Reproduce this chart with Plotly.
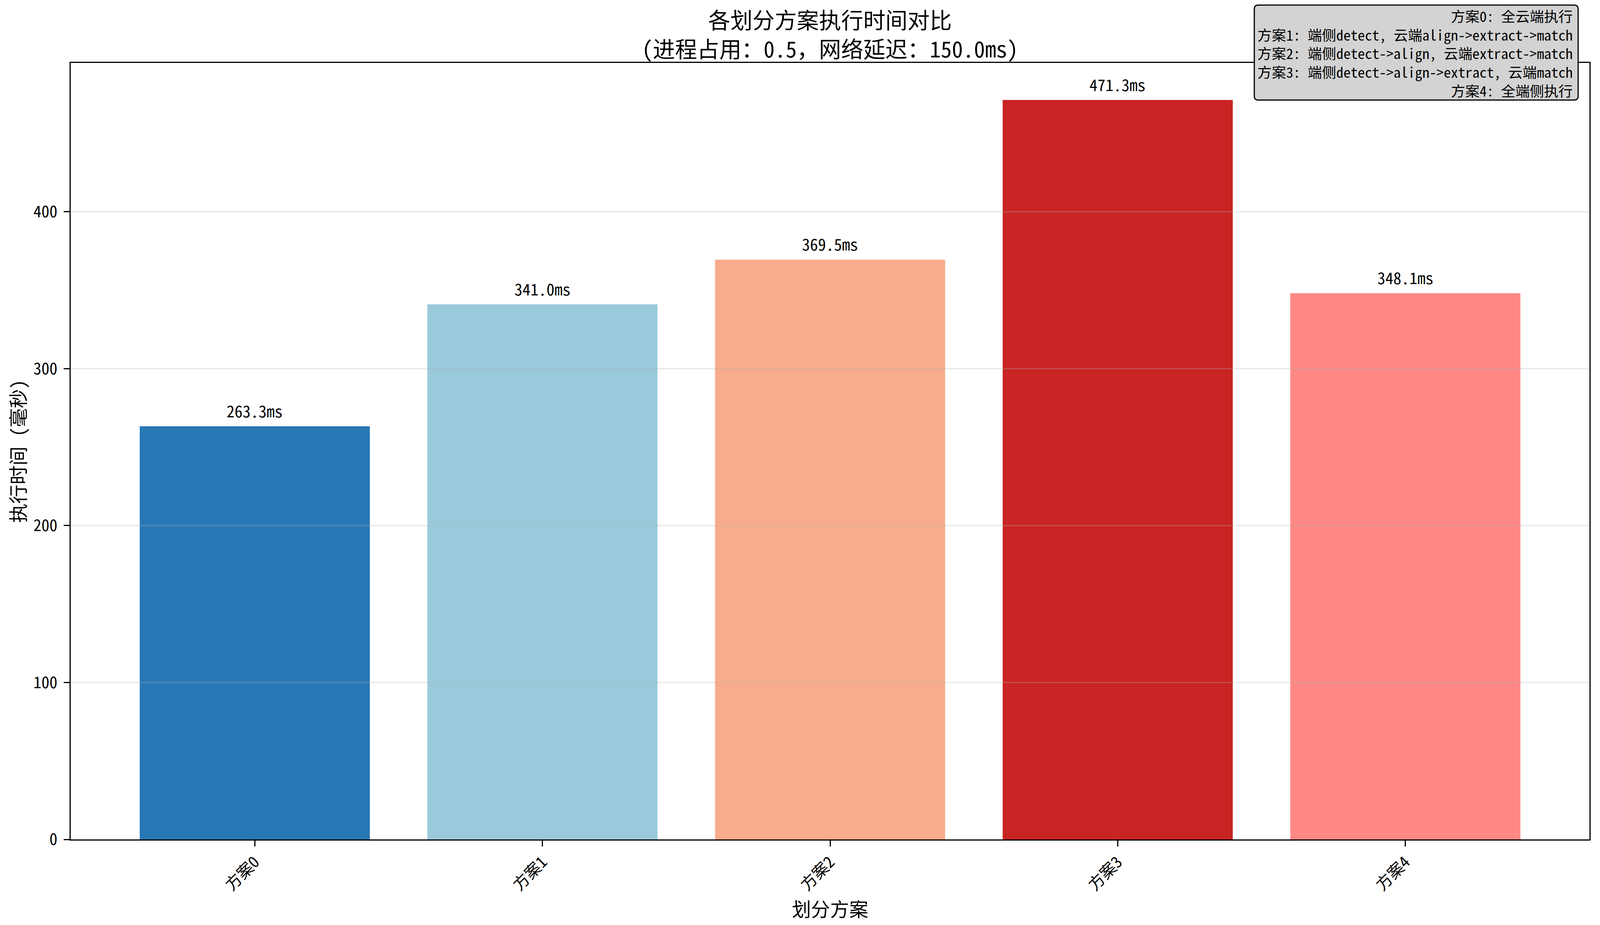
import plotly.graph_objects as go

# data
schemes = ["方案0", "方案1", "方案2", "方案3", "方案4"]
exec_times = [263.3, 341.0, 369.5, 471.3, 348.1]
bar_colors = ["#2878b5", "#9ac9db", "#f8ac8c", "#c82423", "#ff8884"]
y_ticks = [0, 100, 200, 300, 400]
scheme_notes = [
    "方案0: 全云端执行",
    "方案1: 端侧detect, 云端align->extract->match",
    "方案2: 端侧detect->align, 云端extract->match",
    "方案3: 端侧detect->align->extract, 云端match",
    "方案4: 全端侧执行",
]
cpu_usage = 0.5
net_delay = 150.0
title_lines = [
    "各划分方案执行时间对比",
    f"(进程占用：{cpu_usage}，网络延迟：{net_delay}ms)",
]

FONT = "Noto Sans Mono CJK SC, Noto Sans CJK SC, sans-serif"


def rounded_box(x0, x1, y0, y1, r):
    # rounded rectangle path (pixel offsets)
    return (
        f"M {x0 + r},{y0} L {x1 - r},{y0} Q {x1},{y0} {x1},{y0 + r} "
        f"L {x1},{y1 - r} Q {x1},{y1} {x1 - r},{y1} "
        f"L {x0 + r},{y1} Q {x0},{y1} {x0},{y1 - r} "
        f"L {x0},{y0 + r} Q {x0},{y0} {x0 + r},{y0} Z"
    )


fig = go.Figure()

fig.add_trace(
    go.Bar(
        x=schemes,
        y=exec_times,
        width=0.8,
        marker=dict(color=bar_colors, line=dict(width=0)),
        showlegend=False,
    )
)

# value labels above the bars
for name, val in zip(schemes, exec_times):
    fig.add_annotation(
        x=name,
        y=val,
        text=f"{val:.1f}ms",
        showarrow=False,
        yanchor="bottom",
        yshift=9,
        font=dict(size=41, color="black", family=FONT),
    )

# grid lines over the bars (matplotlib draws them on top)
for t in y_ticks[1:]:
    fig.add_shape(
        type="line",
        xref="paper",
        yref="y",
        x0=0,
        x1=1,
        y0=t,
        y1=t,
        line=dict(color="rgba(176,176,176,0.3)", width=3.2),
        layer="above",
    )

# two-line title
fig.add_annotation(
    xref="paper",
    yref="paper",
    x=0.5,
    y=1,
    xanchor="center",
    yanchor="middle",
    yshift=76,
    text="<br>".join(title_lines),
    showarrow=False,
    font=dict(size=56.7, color="black", family=FONT),
)

# text box in the top right corner
fig.add_shape(
    type="path",
    xref="paper",
    yref="paper",
    xsizemode="pixel",
    ysizemode="pixel",
    xanchor=1,
    yanchor=1,
    path=rounded_box(-858, -29, -95, 148, 10),
    fillcolor="#d3d3d3",
    line=dict(color="black", width=3),
    layer="above",
)
fig.add_annotation(
    xref="paper",
    yref="paper",
    x=1,
    y=1,
    xanchor="right",
    yanchor="middle",
    xshift=-41,
    yshift=26,
    align="right",
    text="<br>".join(scheme_notes),
    showarrow=False,
    font=dict(size=36.7, color="black", family=FONT),
)

fig.update_layout(
    autosize=True,
    margin=dict(l=173, r=19, t=153, b=211),
    paper_bgcolor="white",
    plot_bgcolor="white",
    font=dict(family=FONT, color="black"),
)

fig.update_xaxes(
    range=[-0.64, 4.64],
    showline=True,
    linecolor="black",
    linewidth=3.2,
    mirror=True,
    ticks="outside",
    ticklen=14.7,
    tickwidth=3.2,
    tickcolor="black",
    tickangle=-45,
    tickfont=dict(size=41, family=FONT),
    showgrid=False,
    title=dict(text="划分方案", font=dict(size=48.9, family=FONT), standoff=0),
)

fig.update_yaxes(
    range=[0, 494.87],
    tickvals=y_ticks,
    showline=True,
    linecolor="black",
    linewidth=3.2,
    mirror=True,
    ticks="outside",
    ticklen=14.7,
    tickwidth=3.2,
    tickcolor="black",
    ticklabelstandoff=8,
    tickfont=dict(size=41, family=FONT),
    showgrid=False,
    zeroline=False,
    title=dict(text="执行时间 (毫秒)", font=dict(size=48.9, family=FONT), standoff=18),
)

fig.write_html("out.html")
